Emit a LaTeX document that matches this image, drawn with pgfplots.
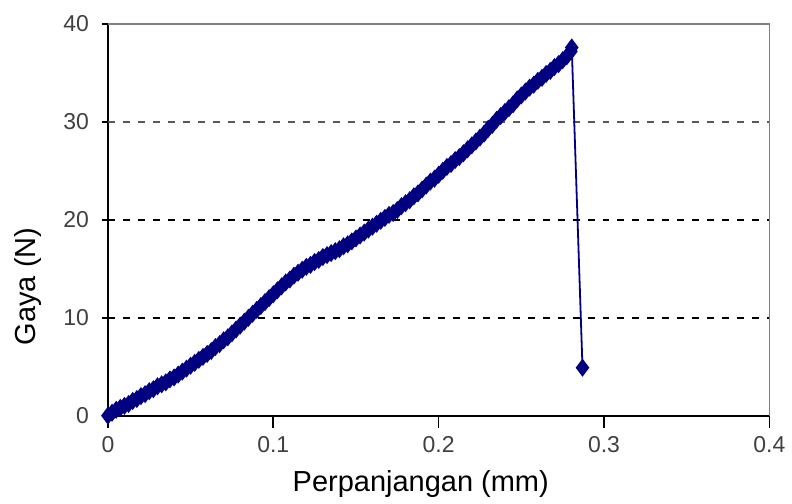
\documentclass[border=0pt]{standalone}
\usepackage{pgfplots}
\pgfplotsset{compat=1.18}
\usepackage{fontspec}
\setmainfont{Liberation Sans}
\definecolor{navy}{HTML}{000080}
\definecolor{ticktext}{HTML}{404040}

\begin{document}
\begin{tikzpicture}
\begin{axis}[
    scale only axis,
    width=331pt, height=196pt,
    xmin=0, xmax=0.4,
    ymin=0, ymax=40,
    axis lines*=left,
    axis line style={black, line width=1pt},
    xtick={0,0.1,0.2,0.3,0.4},
    xticklabels={0,0.1,0.2,0.3,0.4},
    ytick={0,10,20,30,40},
    x tick style={black, line width=0.8pt},
    y tick style={black, line width=0.8pt},
    xtick align=outside,
    ytick align=center,
    major tick length=6pt,
    tick label style={font=\fontsize{11.5}{13}\selectfont, text=ticktext},
    /pgf/number format/assume math mode=true,
    yticklabel style={xshift=-3pt},
    xticklabel style={yshift=-1pt},
    xlabel={Perpanjangan (mm)},
    ylabel={Gaya (N)},
    label style={font=\fontsize{14.5}{16}\selectfont},
    xlabel style={at={(axis description cs:0.473,0)}, anchor=center, yshift=-34pt},
    ylabel style={at={([xshift=-40pt]axis description cs:0,0.33)}, anchor=center},
    clip=false,
]
% grid lines
\draw[black, line width=1pt, dash pattern=on 3.5pt off 4pt] (axis cs:0,10) -- (axis cs:0.4,10);
\draw[black, line width=1pt, dash pattern=on 3.5pt off 4pt] (axis cs:0,20) -- (axis cs:0.4,20);
\draw[gray!70!black, line width=0.6pt, dash pattern=on 3.5pt off 4pt] (axis cs:0,30) -- (axis cs:0.4,30);
% top and right frame
\draw[gray, line width=0.8pt] (axis cs:0,40) -- (axis cs:0.4,40) -- (axis cs:0.4,0);

\addplot[color=navy, line width=0.9pt, mark=diamond*, mark size=3.8pt,
         mark options={fill=navy, draw=navy}]
coordinates {
(0,0)(0.0025,0.3)(0.005,0.6)(0.0075,0.8)(0.01,1.0)(0.0125,1.2)(0.015,1.5)(0.0175,1.7)
(0.02,2.0)(0.0225,2.2)(0.025,2.5)(0.0275,2.7)(0.03,3.0)(0.0325,3.2)(0.035,3.4)(0.0375,3.7)
(0.04,3.9)(0.0425,4.2)(0.045,4.5)(0.0475,4.8)(0.05,5.1)(0.0525,5.4)(0.055,5.7)(0.0575,6.0)
(0.06,6.3)(0.0625,6.6)(0.065,7.0)(0.0675,7.3)(0.07,7.7)(0.0725,8.0)(0.075,8.4)(0.0775,8.8)
(0.08,9.2)(0.0825,9.6)(0.085,10.0)(0.0875,10.4)(0.09,10.8)(0.0925,11.2)(0.095,11.6)(0.0975,12.0)
(0.1,12.4)(0.1025,12.8)(0.105,13.2)(0.1075,13.6)(0.11,13.9)(0.1125,14.3)(0.115,14.6)(0.1175,14.9)
(0.12,15.2)(0.1225,15.4)(0.125,15.7)(0.1275,15.9)(0.13,16.2)(0.1325,16.4)(0.135,16.6)(0.1375,16.8)
(0.14,17.0)(0.1425,17.3)(0.145,17.5)(0.1475,17.8)(0.15,18.1)(0.1525,18.4)(0.155,18.7)(0.1575,19.0)
(0.16,19.3)(0.1625,19.6)(0.165,19.9)(0.1675,20.2)(0.17,20.5)(0.1725,20.7)(0.175,21.0)(0.1775,21.4)
(0.18,21.7)(0.1825,22.0)(0.185,22.4)(0.1875,22.7)(0.19,23.1)(0.1925,23.5)(0.195,23.9)(0.1975,24.2)
(0.2,24.6)(0.2025,25.0)(0.205,25.4)(0.2075,25.7)(0.21,26.1)(0.2125,26.4)(0.215,26.8)(0.2175,27.2)
(0.22,27.6)(0.2225,28.0)(0.225,28.4)(0.2275,28.8)(0.23,29.3)(0.2325,29.7)(0.235,30.2)(0.2375,30.6)
(0.24,31.0)(0.2425,31.4)(0.245,31.8)(0.2475,32.3)(0.25,32.7)(0.2525,33.1)(0.255,33.5)(0.2575,33.8)
(0.26,34.2)(0.2625,34.5)(0.265,34.9)(0.2675,35.2)(0.27,35.6)(0.2725,35.9)(0.275,36.3)(0.2775,36.7)
(0.28,37.2)(0.2805,37.6)(0.287,4.9)
};
\end{axis}
\path ([shift={(-54pt,-44pt)}]current axis.south west) rectangle ([shift={(11pt,12pt)}]current axis.north east);
\end{tikzpicture}
\end{document}
